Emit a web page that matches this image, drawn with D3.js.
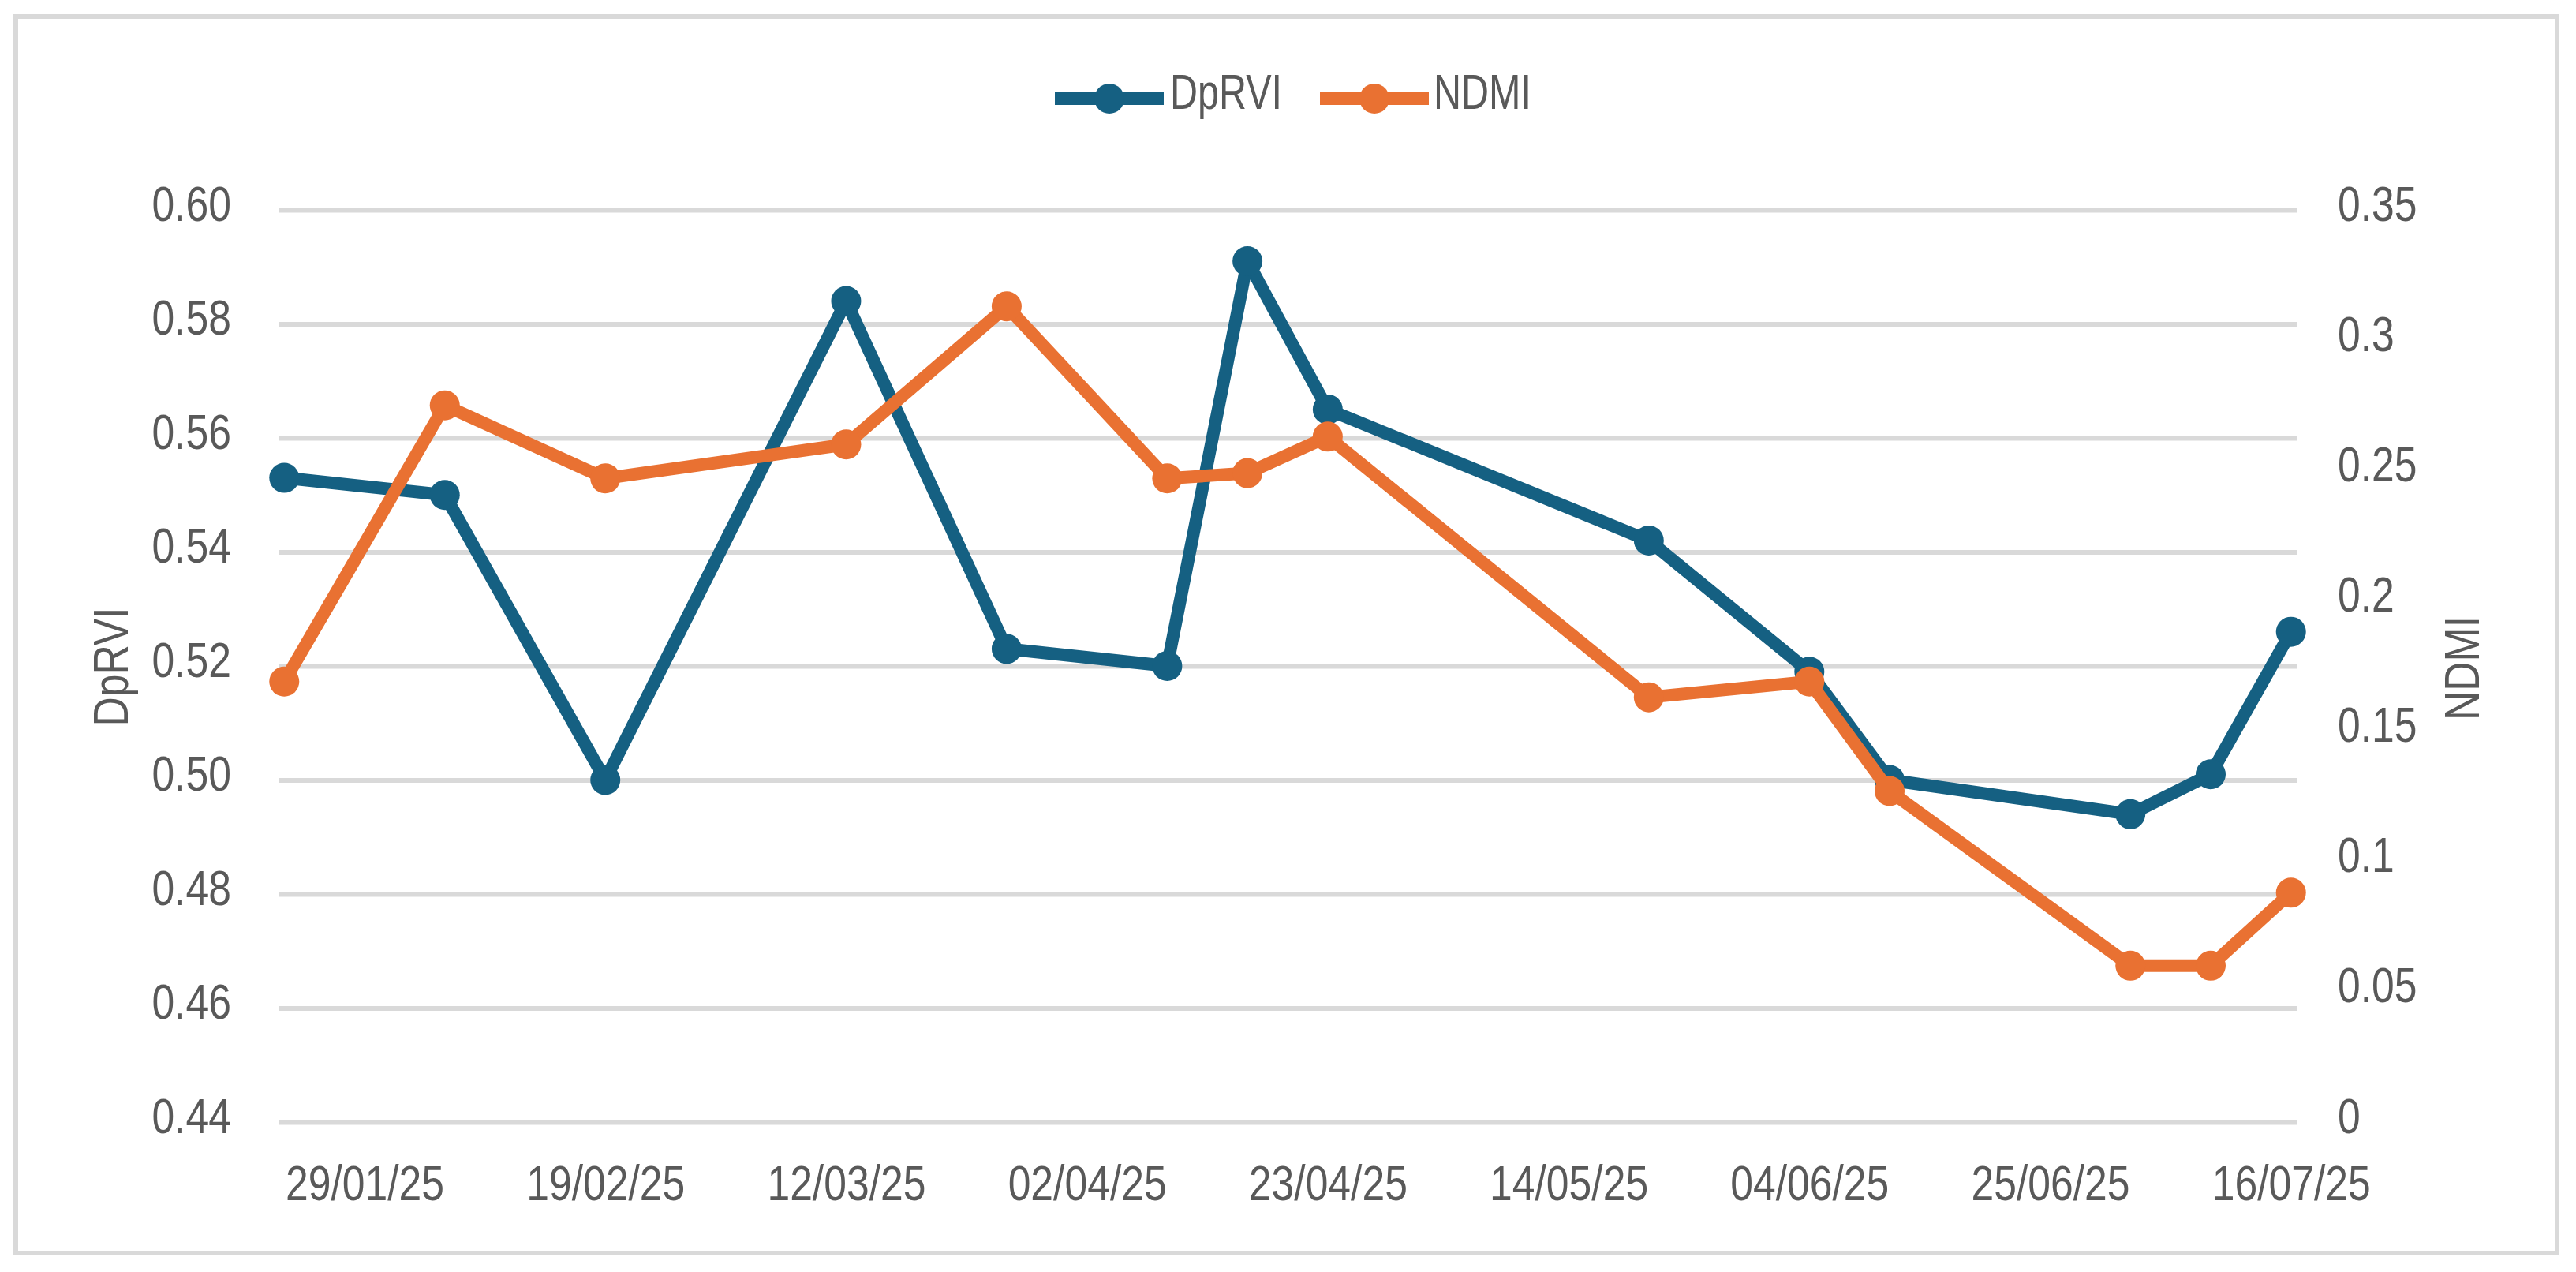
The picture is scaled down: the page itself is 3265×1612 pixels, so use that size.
<!DOCTYPE html>
<html>
<head>
<meta charset="utf-8">
<script src="https://cdn.jsdelivr.net/npm/d3@7"></script>
<style>
  html, body { margin: 0; padding: 0; background: #ffffff; }
  svg { display: block; }
  text { font-family: "Liberation Sans", Arial, sans-serif; fill: #595959; }
</style>
</head>
<body>
<svg id="chart" width="3265" height="1612"></svg>
<script>
// ---- data ----
const dates = ["2025-01-22","2025-02-05","2025-02-19","2025-03-12","2025-03-26","2025-04-09","2025-04-16",
               "2025-04-23","2025-05-21","2025-06-04","2025-06-11","2025-07-02","2025-07-09","2025-07-16"];
const dprvi = [0.553,0.550,0.500,0.584,0.523,0.520,0.591,0.565,0.542,0.519,0.500,0.494,0.501,0.526];
const ndmi  = [0.169,0.275,0.247,0.260,0.313,0.247,0.249,0.263,0.163,0.169,0.127,0.060,0.060,0.088];
const xTickLabels = ["29/01/25","19/02/25","12/03/25","02/04/25","23/04/25","14/05/25","04/06/25","25/06/25","16/07/25"];
const leftTicks  = [0.44,0.46,0.48,0.50,0.52,0.54,0.56,0.58,0.60];
const rightTicks = [0,0.05,0.10,0.15,0.20,0.25,0.30,0.35];
const seriesNames = ["DpRVI","NDMI"];
const colors = ["#156082","#E97132"];

// ---- layout ----
const svg = d3.select("#chart");
const L = 353, R = 2911, T = 266, B = 1422;
const FS = 63;
const SX_NUM = "scale(0.82,1)";
const SX_TXT = "scale(0.77,1)";
const parse = d3.timeParse("%Y-%m-%d");
const parseTick = d3.timeParse("%d/%m/%y");

const x = d3.scaleTime()
  .domain([new Date(2025,0,21,12), new Date(2025,6,16,12)])
  .range([L, R]);
const yL = d3.scaleLinear().domain([0.44, 0.60]).range([B, T]);
const yR = d3.scaleLinear().domain([0, 0.35]).range([B, T]);

// frame
svg.append("rect").attr("x", 20).attr("y", 21).attr("width", 3221).attr("height", 1567)
  .attr("fill", "#ffffff").attr("stroke", "#d9d9d9").attr("stroke-width", 6);

// gridlines
const grid = svg.append("g").attr("transform", `translate(${L},0)`)
  .call(d3.axisLeft(yL).tickValues(leftTicks).tickSize(-(R - L)).tickFormat(""));
grid.select(".domain").remove();
grid.selectAll("line").attr("stroke", "#d9d9d9").attr("stroke-width", 6);

// left axis labels
const gl = svg.append("g").attr("transform", `translate(293,0)`)
  .call(d3.axisLeft(yL).tickValues(leftTicks).tickSize(0).tickPadding(0).tickFormat(d3.format(".2f")));
gl.select(".domain").remove();
gl.selectAll("text").attr("font-size", FS).attr("dy", "13").attr("fill", "#595959")
  .attr("transform", SX_NUM);

// right axis labels
const gr = svg.append("g").attr("transform", `translate(2963,0)`)
  .call(d3.axisRight(yR).tickValues(rightTicks).tickSize(0).tickPadding(0)
    .tickFormat(d => String(+d.toFixed(2))));
gr.select(".domain").remove();
gr.selectAll("text").attr("font-size", FS).attr("dy", "13").attr("fill", "#595959")
  .attr("transform", SX_NUM);

// x axis labels
const gx = svg.append("g").attr("transform", `translate(0,1521)`)
  .call(d3.axisBottom(x).tickValues(xTickLabels.map(parseTick)).tickSize(0).tickPadding(0)
    .tickFormat(d3.timeFormat("%d/%m/%y")));
gx.select(".domain").remove();
gx.selectAll("text").attr("font-size", FS).attr("dy", "0").attr("fill", "#595959")
  .attr("transform", SX_NUM);
svg.selectAll("g").attr("font-family", null);

// axis titles
svg.append("text").attr("transform", "translate(162,845) rotate(-90) scale(0.82,1)")
  .attr("text-anchor", "middle").attr("font-size", FS).text(seriesNames[0]);
svg.append("text").attr("transform", "translate(3142,847) rotate(-90) scale(0.82,1)")
  .attr("text-anchor", "middle").attr("font-size", FS).text(seriesNames[1]);

// series
const data0 = dates.map((d, i) => ({ date: parse(d), v: dprvi[i] }));
const data1 = dates.map((d, i) => ({ date: parse(d), v: ndmi[i] }));
const series = [
  { data: data0, y: yL, color: colors[0] },
  { data: data1, y: yR, color: colors[1] }
];
series.forEach(s => {
  const line = d3.line().x(d => x(d.date)).y(d => s.y(d.v));
  svg.append("path").datum(s.data).attr("d", line)
    .attr("fill", "none").attr("stroke", s.color).attr("stroke-width", 16)
    .attr("stroke-linejoin", "round").attr("stroke-linecap", "round");
  svg.append("g").selectAll("circle").data(s.data).join("circle")
    .attr("cx", d => x(d.date)).attr("cy", d => s.y(d.v)).attr("r", 19)
    .attr("fill", s.color);
});

// legend
const legend = [
  { name: seriesNames[0], color: colors[0], x0: 1337, tx: 1483 },
  { name: seriesNames[1], color: colors[1], x0: 1673, tx: 1817 }
];
legend.forEach(l => {
  svg.append("line").attr("x1", l.x0).attr("x2", l.x0 + 138).attr("y1", 125).attr("y2", 125)
    .attr("stroke", l.color).attr("stroke-width", 16);
  svg.append("circle").attr("cx", l.x0 + 69).attr("cy", 125).attr("r", 19).attr("fill", l.color);
  svg.append("text").attr("transform", `translate(${l.tx},138) ${SX_TXT}`)
    .attr("font-size", FS).text(l.name);
});
</script>
</body>
</html>
